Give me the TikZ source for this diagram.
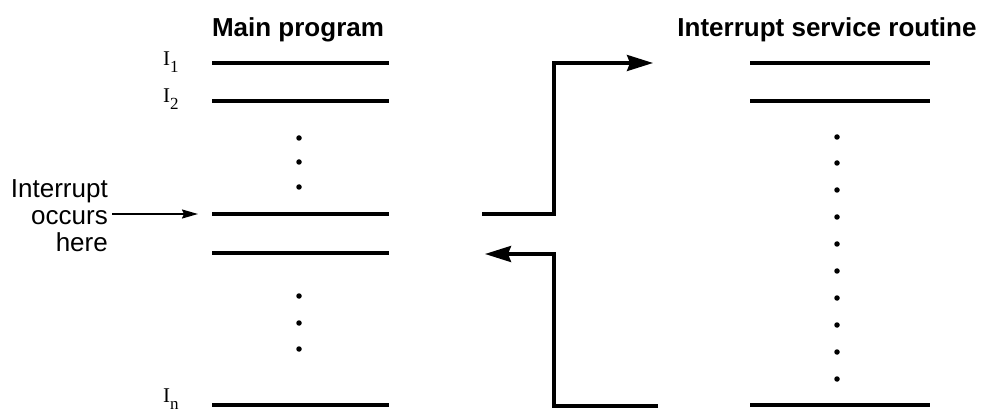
\documentclass[tikz,border=0pt]{standalone}
\usepackage{fontspec}
\setmainfont{Liberation Serif}
\setsansfont{Liberation Sans}
\usetikzlibrary{arrows.meta}
\newcommand{\isub}[1]{I\raisebox{-7pt}{\fontsize{17}{17}\selectfont #1}}
\begin{document}
\begin{tikzpicture}[x=1pt,y=-1pt,
  instr/.style={line width=3.2pt},
  flow/.style={line width=3.2pt,-{Stealth[length=26pt,width=16pt,inset=3pt]}},
  thin arrow/.style={line width=1.6pt,-{Stealth[length=16pt,width=9pt,inset=2pt]}},
  title/.style={font=\sffamily\bfseries\fontsize{26}{28}\selectfont,inner sep=0pt},
  ilab/.style={font=\fontsize{21}{24}\selectfont,inner sep=0pt,anchor=base west},
  side/.style={font=\sffamily\fontsize{26}{27}\selectfont,inner sep=0pt,align=right},
  dotm/.style={fill,circle,inner sep=0pt,minimum size=5.5pt}]
\useasboundingbox (0,0) rectangle (983,414);

% titles
\node[title,anchor=base] (tmain) at (298,37) {Main program};
\node[title,anchor=base] (tisr) at (827,37) {Interrupt service routine};

% main program instruction lines
\foreach \n/\y in {m1/63,m2/101,mi/214,mr/253,mn/405}{
  \coordinate (\n w) at (212,\y);
  \coordinate (\n e) at (389,\y);
  \draw[instr] (\n w) -- (\n e);
}
% ISR lines
\foreach \n/\y in {s1/63,s2/101,sn/405}{
  \coordinate (\n w) at (750,\y);
  \coordinate (\n e) at (930,\y);
  \draw[instr] (\n w) -- (\n e);
}

% labels
\node[ilab] (l1) at (163,66) {\isub{1}};
\node[ilab] (l2) at (163,103) {\isub{2}};
\node[ilab] (ln) at (163,402) {\isub{n}};

% dots in main program
\foreach \y [count=\i] in {138,162,187,296,323,349}
  \node[dotm] (md\i) at (299,\y) {};
% dots in ISR
\foreach \y [count=\i] in {137,163,190,217,244,271,298,325,352,379}
  \node[dotm] (sd\i) at (837,\y) {};

% interrupt occurs here
\node[side,anchor=east] (occ) at (108,216) {Interrupt\\occurs\\here};
\coordinate (occtip) at (198,214);
\draw[thin arrow] (112,214) coordinate (occs) -- (occtip);

% connectors
\coordinate (jx) at (554,0);
\coordinate (c1s) at (482,214);
\coordinate (c1e) at (653,63);
\draw[flow] (c1s) -| (jx |- c1e) -- (c1e);
\coordinate (c2s) at (658,406);
\coordinate (c2e) at (485,254);
\draw[flow] (c2s) -| (jx |- c2e) -- (c2e);
\end{tikzpicture}
\end{document}
